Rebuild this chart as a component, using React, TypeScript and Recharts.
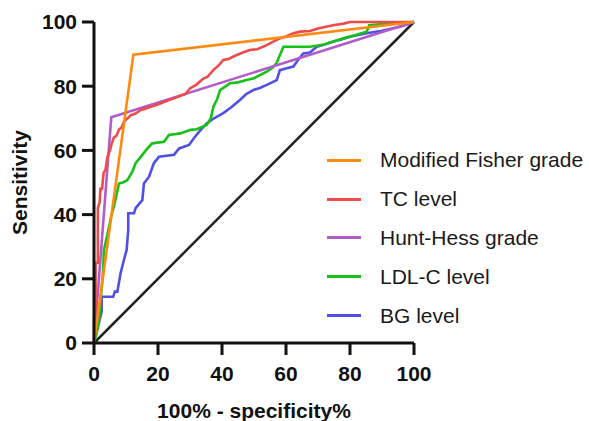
import { Line, LineChart, XAxis, YAxis } from "recharts";

const TICKS = [0, 20, 40, 60, 80, 100];

const FONT = '"Liberation Sans", Arial, Helvetica, sans-serif';

// [100% - specificity, sensitivity]
const fisherGrade = [
  [0, 0],
  [12.3, 89.8],
  [100, 100],
];

const huntHessGrade = [
  [0, 0],
  [5.4, 70.3],
  [100, 100],
];

const tcLevel = [
  [0, 0], [0, 8], [0.5, 10], [0.5, 25], [1.2, 25], [1.2, 42], [1.8, 44], [2, 48],
  [2.5, 48], [3, 53], [3.6, 54], [4.2, 58], [5, 60], [5.5, 62], [6.2, 64], [7, 64.5],
  [7.8, 66.5], [8.5, 67], [9.4, 69], [10.5, 70], [11.5, 71], [13, 71.5], [14.6, 72.6],
  [16, 73], [17.7, 73.6], [19, 74], [20.8, 74.6], [23, 75.5], [25, 76.2], [27, 77],
  [28.5, 77.5], [30, 79.3], [32, 80.5], [34.2, 82.4], [35.5, 83], [37.3, 85], [39, 86.5],
  [40.4, 88.2], [42, 88.5], [44.6, 89.7], [46.5, 90.5], [48.7, 91.3], [51, 91.5],
  [54, 92.8], [56, 93.9], [58.1, 94.9], [60, 95.5], [62.3, 96.5], [64.4, 97], [67.5, 97.2],
  [70, 98], [74.7, 99], [78, 99.5], [80, 100], [100, 100],
];

const ldlcLevel = [
  [0, 0], [0.8, 3], [1.6, 7.2], [2.2, 15], [2.8, 22], [3.1, 29], [4, 33], [4.7, 36.2],
  [5.5, 40], [6.2, 42.5], [7, 46], [7.8, 49.7], [9, 50], [10.4, 50.7], [12, 53.4],
  [13, 56], [14.6, 58], [16.7, 60.6], [18.2, 62.2], [21.9, 62.7], [23.4, 64.8],
  [27, 65.3], [30.2, 66.4], [32.1, 66.6], [35.2, 67.9], [36.5, 70], [37.3, 73.6],
  [38.5, 76], [39.4, 78.8], [42.5, 80.9], [45, 81.2], [47.7, 81.9], [50, 82.5],
  [51.9, 83.5], [54, 84.5], [56, 86], [57, 87.1], [58.1, 89.7], [59.2, 92.3],
  [67.5, 92.3], [72, 93], [77.9, 94.9], [82, 96], [85.2, 97], [86, 99], [92, 99.5],
  [100, 100],
];

const bgLevel = [
  [0, 0], [2.4, 9.8], [2.4, 14.4], [6, 14.4], [6.5, 16], [7.3, 16], [8.3, 21.7],
  [9.2, 25.3], [10.2, 29], [10.7, 35.2], [10.7, 40.4], [12.5, 40.4], [13, 42],
  [15.1, 44.5], [15.6, 49.7], [17.2, 51.8], [18.7, 56], [20.3, 58], [25, 58.6],
  [26.6, 60.6], [29.7, 61.7], [31.2, 63.8], [33, 66], [35.2, 68.4], [37.5, 70],
  [40.4, 71.6], [43, 73.5], [45.6, 75.7], [47.5, 77.5], [49.8, 78.8], [52, 79.5],
  [54, 80.4], [57.1, 81.9], [58.1, 85], [60, 85.5], [62.3, 86.1], [64, 88.5],
  [65.4, 90.2], [67.5, 90.5], [69.6, 92.3], [72, 93], [74.8, 93.9], [77, 94.5],
  [80, 95.4], [85.2, 96.5], [90, 97.3], [95.6, 98.5], [100, 100],
];

const reference = [
  [0, 0],
  [100, 100],
];

const toPoints = (pairs: number[][]) => pairs.map(([x, y]) => ({ x, y }));

// draw order: bottom first
const SERIES = [
  { name: "BG level", color: "#5050E4", data: bgLevel },
  { name: "LDL-C level", color: "#17C117", data: ldlcLevel },
  { name: "Hunt-Hess grade", color: "#B25CC9", data: huntHessGrade },
  { name: "TC level", color: "#EF4B4B", data: tcLevel },
  { name: "Modified Fisher grade", color: "#FF8A12", data: fisherGrade },
];

const LEGEND_ORDER = [
  "Modified Fisher grade",
  "TC level",
  "Hunt-Hess grade",
  "LDL-C level",
  "BG level",
];

function RocLegend() {
  return (
    <div
      style={{
        position: "absolute",
        left: 325,
        top: 141,
        fontFamily: FONT,
        fontSize: 21,
        color: "#1a1a1a",
      }}
    >
      {LEGEND_ORDER.map((name) => {
        const s = SERIES.find((d) => d.name === name)!;
        return (
          <div
            key={name}
            style={{ display: "flex", alignItems: "center", height: 38.8 }}
          >
            <span
              style={{
                display: "inline-block",
                width: 34,
                height: 3,
                background: s.color,
                marginLeft: 2,
                marginRight: 19,
              }}
            />
            <span style={{ whiteSpace: "nowrap" }}>{name}</span>
          </div>
        );
      })}
    </div>
  );
}

const tickStyle = { fill: "#111", fontSize: 21, fontWeight: 700, fontFamily: FONT };

export default function App() {
  return (
    <div
      style={{
        position: "absolute",
        left: 0,
        top: 0,
        width: 589,
        height: 421,
        background: "#fff",
      }}
    >
      <LineChart
        width={589}
        height={421}
        margin={{ top: 22, right: 175, bottom: 18, left: 34 }}
      >
        <XAxis
          dataKey="x"
          type="number"
          domain={[0, 100]}
          ticks={TICKS}
          stroke="#111"
          strokeWidth={3}
          tickSize={12}
          tickMargin={11}
          tick={tickStyle}
          height={60}
          label={{
            value: "100% - specificity%",
            position: "bottom",
            offset: 0,
            style: { ...tickStyle, textAnchor: "middle" },
          }}
        />
        <YAxis
          dataKey="y"
          type="number"
          domain={[0, 100]}
          ticks={TICKS}
          stroke="#111"
          strokeWidth={3}
          tickSize={12}
          tickMargin={5}
          tick={tickStyle}
          width={60}
          label={({ viewBox }: any) => (
            <text
              x={27}
              y={viewBox.y + viewBox.height / 2}
              transform={`rotate(-90, 27, ${viewBox.y + viewBox.height / 2})`}
              textAnchor="middle"
              style={tickStyle}
            >
              Sensitivity
            </text>
          )}
        />
        <Line
          data={toPoints(reference)}
          dataKey="y"
          stroke="#222"
          strokeWidth={2.5}
          dot={false}
          isAnimationActive={false}
          legendType="none"
        />
        {SERIES.map((s) => (
          <Line
            key={s.name}
            name={s.name}
            data={toPoints(s.data)}
            dataKey="y"
            type="linear"
            stroke={s.color}
            strokeWidth={2.6}
            dot={false}
            isAnimationActive={false}
          />
        ))}
      </LineChart>
      <RocLegend />
    </div>
  );
}
